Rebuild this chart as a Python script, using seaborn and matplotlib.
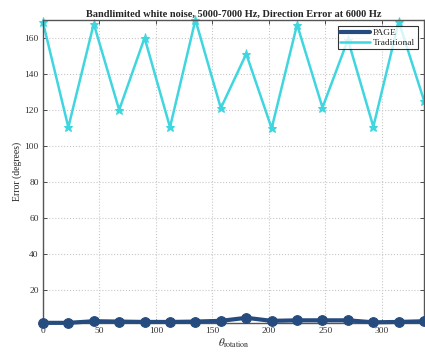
import numpy as np
import pandas as pd
import matplotlib
matplotlib.use("Agg")
import matplotlib.pyplot as plt
import seaborn as sns

# Rotation angles (degrees) and direction errors for each method
rotation = [0, 22.5, 45, 67.5, 90, 112.5, 135, 157.5, 180, 202.5, 225, 247.5, 270, 292.5, 315, 337.5]
page_err = [1.9, 1.9, 2.8, 2.6, 2.4, 2.4, 2.6, 3.0, 4.7, 3.0, 3.3, 3.3, 3.3, 2.2, 2.4, 2.8]
trad_err = [168.7, 110.4, 167.8, 120.0, 160.0, 110.4, 170.0, 121.0, 151.1, 109.8, 167.4, 121.3, 159.0, 110.7, 169.0, 125.0]
methods = ["PAGE", "Traditional"]
x_ticks = [0, 50, 100, 150, 200, 250, 300]
y_ticks = [20, 40, 60, 80, 100, 120, 140, 160]

df = pd.DataFrame({
    "rotation": rotation * 2,
    "error": page_err + trad_err,
    "method": [methods[0]] * len(rotation) + [methods[1]] * len(rotation),
})

sns.set_style("ticks")
plt.rcParams["font.family"] = ["Liberation Serif", "DejaVu Serif"]
plt.rcParams["mathtext.fontset"] = "stix"

fig = plt.figure(figsize=(4.25, 3.54), dpi=100)
ax = fig.add_axes([0.101, 0.088, 0.897, 0.856])

colors = {"PAGE": "#264b7e", "Traditional": "#3fd6df"}

sns.lineplot(data=df[df.method == "PAGE"], x="rotation", y="error", color=colors["PAGE"],
             lw=3.0, marker="o", markersize=7, markeredgecolor=colors["PAGE"],
             label="PAGE", ax=ax, zorder=3, clip_on=False)
sns.lineplot(data=df[df.method == "Traditional"], x="rotation", y="error", color=colors["Traditional"],
             lw=1.8, marker="*", markersize=6.5, markeredgecolor=colors["Traditional"],
             label="Traditional", ax=ax, zorder=2, clip_on=False)

ax.set_xlim(min(rotation), max(rotation))
ax.set_ylim(min(page_err + trad_err), max(page_err + trad_err))
ax.set_xticks(x_ticks)
ax.set_yticks(y_ticks)
ax.grid(True, linestyle=":", color="#c8c8c8", lw=0.8)
ax.tick_params(direction="in", length=3, width=0.6, labelsize=6.8, colors="#333333",
               top=True, right=True, pad=3)
for s in ax.spines.values():
    s.set_color("#555555")
    s.set_linewidth(1.0)

ax.set_title("Bandlimited white noise, 5000-7000 Hz, Direction Error at 6000 Hz",
             fontsize=7.5, fontweight="bold", pad=2)
ax.set_xlabel(r"$\theta_{\mathrm{rotation}}$", fontsize=8, labelpad=1)
ax.set_ylabel("Error (degrees)", fontsize=7, labelpad=2)

leg = ax.legend(loc="upper right", fontsize=6.8, frameon=True, fancybox=False,
                handlelength=3.2, borderpad=0.25, labelspacing=0.1, handletextpad=0.3,
                borderaxespad=0.7)
for h in leg.get_lines():
    h.set_marker("")
leg.get_lines()[0].set_linewidth(3)
leg.get_frame().set_edgecolor("black")
leg.get_frame().set_linewidth(0.8)
leg.set_zorder(5)

fig.savefig("out.png", dpi=100)
